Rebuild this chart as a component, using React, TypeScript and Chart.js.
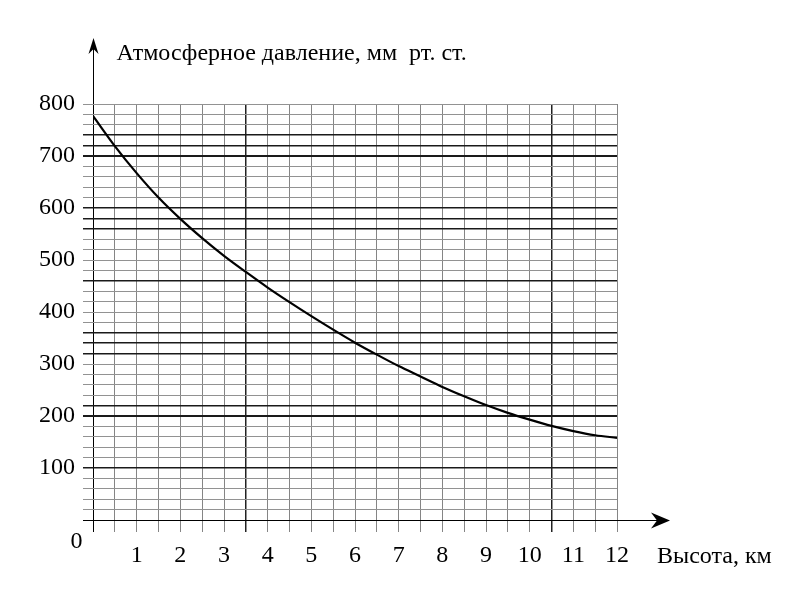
import React, { useEffect, useRef } from "react";
import { Chart, registerables } from "chart.js";

Chart.register(...registerables);

// ---- data ----
const altitudeKm = [0, 0.5, 1, 1.5, 2, 2.5, 3, 3.5, 4, 4.5, 5, 5.5, 6, 6.5, 7, 7.5, 8, 8.5, 9, 9.5, 10, 10.5, 11, 11.5, 12];
const pressureMm = [777, 719, 667, 620, 579, 542, 508, 477, 447, 419, 392, 366, 341, 318, 296, 276, 256, 238, 221, 206, 193, 181, 171, 163, 158];

const xTickValues = [1, 2, 3, 4, 5, 6, 7, 8, 9, 10, 11, 12];
const xTickLabels = ["1", "2", "3", "4", "5", "6", "7", "8", "9", "10", "11", "12"];
const yTickValues = [100, 200, 300, 400, 500, 600, 700, 800];
const yTickLabels = ["100", "200", "300", "400", "500", "600", "700", "800"];

const yAxisTitle = "Атмосферное давление, мм  рт. ст.";
const xAxisTitle = "Высота, км";
const originLabel = "0";

// ---- styles ----
const FONT = '"Liberation Serif", "Times New Roman", serif';
const darkYLines = [740, 720, 700, 600, 580, 560, 460, 360, 340, 320, 220, 200, 100];
const darkXLines = [3.5, 10.5];

const overlay = {
  id: "overlay",
  afterDraw(chart: any) {
    const { ctx, chartArea, scales } = chart;
    const x0 = Math.round(scales.x.getPixelForValue(0)) + 0.5;
    const y0 = Math.round(scales.y.getPixelForValue(0)) + 0.5;
    ctx.save();
    ctx.strokeStyle = "#000";
    ctx.fillStyle = "#000";
    ctx.lineWidth = 1;
    // y axis extension + arrow
    const tipY = chartArea.top - 66;
    ctx.beginPath();
    ctx.moveTo(x0, chartArea.top);
    ctx.lineTo(x0, tipY + 10);
    ctx.stroke();
    ctx.beginPath();
    ctx.moveTo(x0, tipY);
    ctx.lineTo(x0 - 5, tipY + 16);
    ctx.lineTo(x0, tipY + 11);
    ctx.lineTo(x0 + 5, tipY + 16);
    ctx.closePath();
    ctx.fill();
    // x axis extension + arrow
    const tipX = chartArea.right + 53;
    ctx.beginPath();
    ctx.moveTo(chartArea.right, y0);
    ctx.lineTo(tipX - 12, y0);
    ctx.stroke();
    ctx.beginPath();
    ctx.moveTo(tipX, y0);
    ctx.lineTo(tipX - 19, y0 - 8);
    ctx.lineTo(tipX - 13, y0);
    ctx.lineTo(tipX - 19, y0 + 8);
    ctx.closePath();
    ctx.fill();
    // texts
    ctx.font = `24px ${FONT}`;
    ctx.textAlign = "left";
    ctx.textBaseline = "alphabetic";
    ctx.fillText(yAxisTitle, x0 + 23, chartArea.top - 44);
    ctx.fillText(xAxisTitle, chartArea.right + 40, y0 + 42);
    ctx.textAlign = "center";
    ctx.textBaseline = "middle";
    ctx.fillText(originLabel, x0 - 17, y0 + 21);
    ctx.restore();
  },
};

export default function App() {
  const ref = useRef<HTMLCanvasElement>(null);
  useEffect(() => {
    document.body.style.margin = "0";
    const canvas = ref.current!;
    const chart = new Chart(canvas, {
      type: "line",
      data: {
        datasets: [
          {
            data: altitudeKm.map((x, i) => ({ x, y: pressureMm[i] })),
            borderColor: "#000",
            borderWidth: 2.2,
            pointRadius: 0,
            fill: false,
            cubicInterpolationMode: "monotone",
          },
        ],
      },
      options: {
        responsive: false,
        animation: false,
        devicePixelRatio: 1,
        layout: { padding: { top: 104, right: 183, left: 0, bottom: 0 } },
        plugins: { legend: { display: false }, tooltip: { enabled: false }, title: { display: false } },
        scales: {
          x: {
            type: "linear",
            min: 0,
            max: 12,
            afterFit: (s: any) => {
              s.height = 80;
            },
            border: { display: false },
            grid: {
              tickLength: 12,
              color: (c: any) => (c.tick && c.tick.value === 0 ? "#000" : darkXLines.includes(c.tick?.value) ? "#222" : "#858585"),
              lineWidth: (c: any) => (darkXLines.includes(c.tick?.value) ? 1.5 : 1),
            },
            ticks: {
              stepSize: 0.5,
              autoSkip: false,
              maxRotation: 0,
              maxTicksLimit: 100,
              padding: 9,
              color: "#000",
              font: { family: FONT, size: 24 },
              callback: (v: any) => {
                const i = xTickValues.indexOf(Number(v));
                return i >= 0 ? xTickLabels[i] : "";
              },
            },
          },
          y: {
            type: "linear",
            min: 0,
            max: 800,
            afterFit: (s: any) => {
              s.width = 93;
            },
            border: { display: false },
            grid: {
              tickLength: 10,
              color: (c: any) => (c.tick && c.tick.value === 0 ? "#000" : darkYLines.includes(c.tick?.value) ? "#1a1a1a" : "#929292"),
              lineWidth: (c: any) => (c.tick?.value === 700 || c.tick?.value === 200 ? 2 : darkYLines.includes(c.tick?.value) ? 1.5 : 1),
            },
            ticks: {
              stepSize: 20,
              autoSkip: false,
              maxTicksLimit: 100,
              padding: 8,
              color: "#000",
              font: { family: FONT, size: 24 },
              callback: (v: any) => {
                const i = yTickValues.indexOf(Number(v));
                return i >= 0 ? yTickLabels[i] : "";
              },
            },
          },
        },
      },
      plugins: [overlay],
    } as any);
    return () => chart.destroy();
  }, []);
  return (
    <div style={{ width: 800, height: 600, background: "#fff" }}>
      <canvas ref={ref} width={800} height={600} />
    </div>
  );
}
